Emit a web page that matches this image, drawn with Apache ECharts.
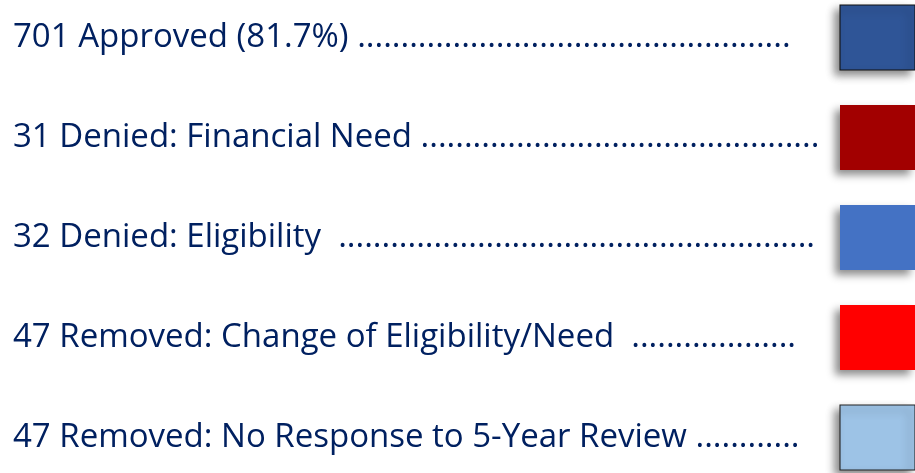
<!DOCTYPE html>
<html>
<head>
<meta charset="utf-8">
<script src="https://cdn.jsdelivr.net/npm/echarts@6/dist/echarts.min.js"></script>
<style>
html,body{margin:0;padding:0;background:#fff;}
#chart{width:915px;height:473px;}
</style>
</head>
<body>
<div id="chart"></div>
<script>
// Data
const counts = [701, 31, 32, 47, 47];
const names = [
  'Approved (81.7%)',
  'Denied: Financial Need',
  'Denied: Eligibility ',
  'Removed: Change of Eligibility/Need ',
  'Removed: No Response to 5-Year Review'
];
const dotCounts = [50, 46, 55, 19, 12];
const colors = ['#2F5597', '#A20000', '#4472C4', '#FF0000', '#9DC3E6'];
const borders = ['#111111', null, null, null, '#222222'];
const present = [1, 1, 1, 1, 1];

const categories = names.map((n, i) => counts[i] + ' ' + n);

const chart = echarts.init(document.getElementById('chart'), null, {renderer: 'canvas'});
chart.setOption({
  animation: false,
  backgroundColor: '#ffffff',
  grid: {left: 13, right: 0, top: 37.5, bottom: 35.5},
  xAxis: {type: 'value', min: 0, max: 1, show: false},
  yAxis: {
    type: 'category',
    inverse: true,
    boundaryGap: false,
    data: categories,
    axisLine: {show: false},
    axisTick: {show: false},
    splitLine: {show: false},
    axisLabel: {
      align: 'left',
      margin: 0,
      color: '#002060',
      fontFamily: 'Open Sans',
      fontSize: 33,
      formatter: (v, i) => '{t|' + v + ' }{d|' + '.'.repeat(dotCounts[i]) + '}',
      rich: {
        t: {color: '#002060', fontFamily: 'Open Sans', fontSize: 33},
        d: {color: '#002060', fontFamily: 'Open Sans', fontSize: 33}
      }
    }
  },
  series: [{
    type: 'scatter',
    symbol: 'rect',
    symbolSize: [75, 65],
    symbolOffset: [-37.5, 0],
    data: present.map((p, i) => ({
      value: [p, categories[i]],
      itemStyle: {
        color: colors[i],
        opacity: 1,
        borderColor: borders[i] || colors[i],
        borderWidth: borders[i] ? 1 : 0,
        shadowColor: 'rgba(0,0,0,0.45)',
        shadowBlur: 8,
        shadowOffsetX: -5,
        shadowOffsetY: 5
      }
    })),
    emphasis: {disabled: true}
  }]
});
</script>
</body>
</html>
